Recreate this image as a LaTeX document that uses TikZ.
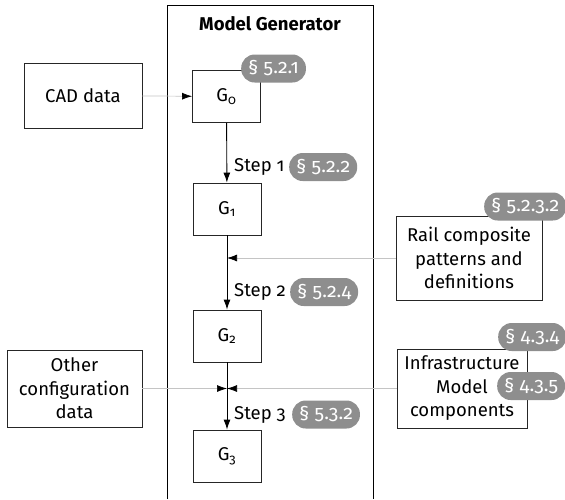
\documentclass[tikz,border=0pt]{standalone}
\usepackage{fontspec}
\setmainfont{Fira Sans}[Numbers={OldStyle,Proportional}]
\usetikzlibrary{arrows.meta}

\definecolor{badgegray}{HTML}{8E8E8E}
\definecolor{feedgray}{HTML}{C4C4C4}

\tikzset{
  box/.style={draw=black!85, line width=0.9pt, align=center, inner sep=0pt},
  gbox/.style={box, minimum width=68pt, minimum height=52pt},
  badge/.style={fill=badgegray, text=white, rounded corners=13.5pt, minimum height=28pt,
    inner xsep=7pt, inner ysep=0pt, anchor=west, font=\fontsize{19.5}{20}\selectfont},
  steplabel/.style={anchor=west, inner sep=0pt},
  flow/.style={line width=0.9pt, -{Latex[length=10pt,width=7pt]}},
  feed/.style={feedgray, line width=0.7pt, -{Latex[length=10pt,width=7pt,black]}},
}

\begin{document}
\begin{tikzpicture}[x=1pt,y=-1pt,font=\fontsize{18.5}{23.5}\selectfont]
  \useasboundingbox (0,0) rectangle (565,499);

  % Model Generator frame, open at the bottom
  \draw[line width=0.9pt] (167,499) -- (167,5) -- (373,5) -- (373,499);
  \node[font=\fontsize{18.5}{20}\selectfont\bfseries] (title) at (270,24) {Model Generator};

  % stages
  \node[gbox] (g0) at (226.5,96.5) {G\textsubscript{0}};
  \node[gbox] (g1) at (227,209) {G\textsubscript{1}};
  \node[gbox] (g2) at (227,336) {G\textsubscript{2}};
  \node[gbox] (g3) at (227,456) {G\textsubscript{3}};

  % inputs
  \node[box, minimum width=118pt, minimum height=65pt] (cad) at (83,95.5) {CAD data};
  \node[box, minimum width=146pt, minimum height=84pt] (rail) at (469,258)
    {Rail composite\\patterns and\\definitions};
  \node[box, minimum width=135pt, minimum height=77pt] (other) at (74.5,388.5)
    {Other\\configuration\\data};
  \node[box, minimum width=130pt, minimum height=79pt] (infra) at (462,388.5)
    {Infrastructure\\Model\\components};

  % merge points on the main line
  \coordinate (m1) at (g1.south |- rail.west);
  \coordinate (m2) at (g2.south |- infra.west);

  % main flow
  \draw[flow] (g0) -- (g1);
  \draw[line width=0.9pt] (g1) -- (m1);
  \draw[flow] (m1) -- (g2);
  \draw[line width=0.9pt] (g2) -- (m2);
  \draw[flow] (m2) -- (g3);

  % inputs into the flow
  \draw[feed] (cad) -- (g0);
  \draw[feed] (rail) -- (m1);
  \draw[feed] (other) -- (m2);
  \draw[feed] (infra) -- (m2);

  % step labels
  \node[steplabel] (s1) at (234,167) {Step 1};
  \node[steplabel] (s2) at (234,292) {Step 2};
  \node[steplabel] (s3) at (234,415) {Step 3};

  % section badges
  \node[badge] (b0) at (241,68.5) {\S\ 5.2.1};
  \node[badge] (b1) at (289,167) {\S\ 5.2.2};
  \node[badge] (b2) at (290,292) {\S\ 5.2.4};
  \node[badge] (b3) at (292,414.5) {\S\ 5.3.2};
  \node[badge] (b4) at (484,206.5) {\S\ 5.2.3.2};
  \node[badge] (b5) at (498,337) {\S\ 4.3.4};
  \node[badge] (b6) at (497,386) {\S\ 4.3.5};
\end{tikzpicture}
\end{document}
